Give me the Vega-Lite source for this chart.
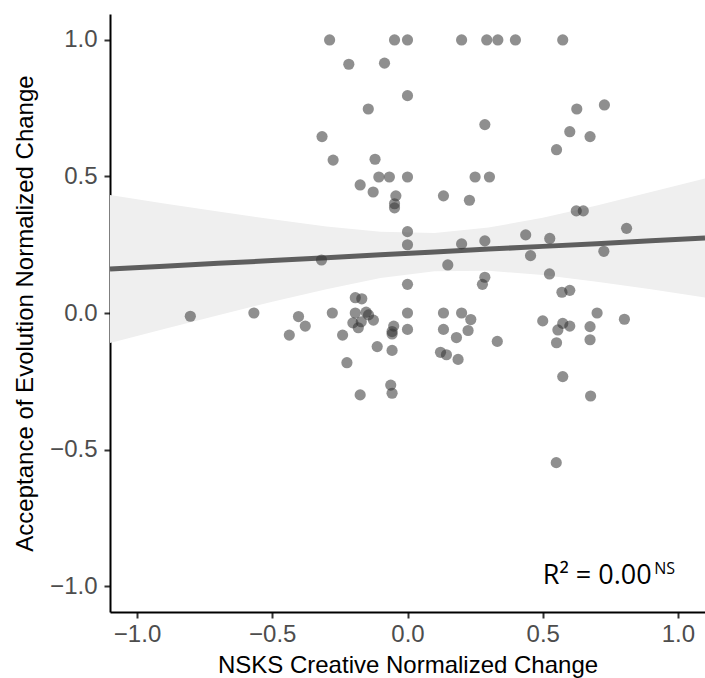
{
  "$schema": "https://vega.github.io/schema/vega-lite/v6.json",
  "width": 595,
  "height": 598,
  "autosize": {"type": "none"},
  "padding": {"left": 110, "top": 14, "right": 0, "bottom": 66},
  "background": "white",
  "config": {
    "view": {"stroke": null},
    "axis": {
      "grid": false,
      "domainColor": "#000000",
      "domainWidth": 2,
      "tickColor": "#333333",
      "tickWidth": 2,
      "tickSize": 6,
      "labelFont": "Liberation Sans",
      "labelFontSize": 24,
      "labelColor": "#4d4d4d",
      "titleFont": "Liberation Sans",
      "titleFontSize": 24,
      "titleFontWeight": "normal",
      "titleColor": "#000000"
    }
  },
  "datasets": {
    "points": [
      {"x": -0.288, "y": 1.0}, {"x": -0.048, "y": 1.0}, {"x": 0.0, "y": 1.0},
      {"x": -0.217, "y": 0.911}, {"x": -0.085, "y": 0.915}, {"x": 0.0, "y": 0.796},
      {"x": -0.145, "y": 0.747}, {"x": -0.316, "y": 0.646}, {"x": -0.275, "y": 0.56},
      {"x": -0.12, "y": 0.563}, {"x": -0.106, "y": 0.498}, {"x": -0.067, "y": 0.498},
      {"x": 0.0, "y": 0.498}, {"x": -0.175, "y": 0.469}, {"x": -0.127, "y": 0.443},
      {"x": -0.043, "y": 0.429}, {"x": -0.048, "y": 0.4}, {"x": -0.048, "y": 0.385},
      {"x": 0.0, "y": 0.298}, {"x": 0.0, "y": 0.25}, {"x": -0.318, "y": 0.194},
      {"x": 0.0, "y": 0.105}, {"x": -0.803, "y": -0.012}, {"x": -0.568, "y": 0.0},
      {"x": -0.403, "y": -0.013}, {"x": -0.378, "y": -0.048}, {"x": -0.437, "y": -0.081},
      {"x": -0.278, "y": 0.0}, {"x": -0.193, "y": 0.056}, {"x": -0.169, "y": 0.052},
      {"x": -0.193, "y": 0.0}, {"x": -0.153, "y": 0.003}, {"x": -0.144, "y": -0.007},
      {"x": -0.126, "y": -0.026}, {"x": -0.202, "y": -0.036}, {"x": -0.171, "y": -0.032},
      {"x": -0.182, "y": -0.054}, {"x": -0.24, "y": -0.081}, {"x": -0.051, "y": -0.048},
      {"x": -0.057, "y": -0.068}, {"x": -0.057, "y": -0.077}, {"x": 0.0, "y": 0.0},
      {"x": 0.0, "y": -0.06}, {"x": -0.112, "y": -0.123}, {"x": -0.057, "y": -0.137},
      {"x": -0.224, "y": -0.182}, {"x": -0.062, "y": -0.264}, {"x": -0.057, "y": -0.294},
      {"x": -0.175, "y": -0.3}, {"x": 0.2, "y": 1.0}, {"x": 0.293, "y": 1.0},
      {"x": 0.334, "y": 1.0}, {"x": 0.399, "y": 1.0}, {"x": 0.574, "y": 1.0},
      {"x": 0.286, "y": 0.69}, {"x": 0.626, "y": 0.747}, {"x": 0.728, "y": 0.762},
      {"x": 0.6, "y": 0.664}, {"x": 0.675, "y": 0.646}, {"x": 0.551, "y": 0.598},
      {"x": 0.25, "y": 0.498}, {"x": 0.303, "y": 0.498}, {"x": 0.133, "y": 0.429},
      {"x": 0.229, "y": 0.413}, {"x": 0.624, "y": 0.374}, {"x": 0.65, "y": 0.374},
      {"x": 0.81, "y": 0.31}, {"x": 0.2, "y": 0.253}, {"x": 0.286, "y": 0.264},
      {"x": 0.437, "y": 0.286}, {"x": 0.526, "y": 0.273}, {"x": 0.455, "y": 0.21},
      {"x": 0.726, "y": 0.226}, {"x": 0.149, "y": 0.176}, {"x": 0.286, "y": 0.131},
      {"x": 0.277, "y": 0.105}, {"x": 0.525, "y": 0.143}, {"x": 0.571, "y": 0.076},
      {"x": 0.6, "y": 0.083}, {"x": 0.133, "y": 0.0}, {"x": 0.2, "y": 0.0},
      {"x": 0.234, "y": -0.024}, {"x": 0.133, "y": -0.06}, {"x": 0.224, "y": -0.064},
      {"x": 0.181, "y": -0.09}, {"x": 0.332, "y": -0.104}, {"x": 0.122, "y": -0.144},
      {"x": 0.144, "y": -0.153}, {"x": 0.187, "y": -0.17}, {"x": 0.5, "y": -0.029},
      {"x": 0.574, "y": -0.038}, {"x": 0.6, "y": -0.048}, {"x": 0.556, "y": -0.062},
      {"x": 0.701, "y": 0.0}, {"x": 0.675, "y": -0.05}, {"x": 0.675, "y": -0.098},
      {"x": 0.802, "y": -0.023}, {"x": 0.551, "y": -0.109}, {"x": 0.574, "y": -0.233},
      {"x": 0.677, "y": -0.304}, {"x": 0.55, "y": -0.548}
    ],
    "fit": [
      {"x": -1.1, "fit": 0.161, "lo": -0.110, "hi": 0.432},
      {"x": -0.9, "fit": 0.171, "lo": -0.059, "hi": 0.401},
      {"x": -0.7, "fit": 0.182, "lo": -0.008, "hi": 0.372},
      {"x": -0.5, "fit": 0.192, "lo": 0.041, "hi": 0.343},
      {"x": -0.3, "fit": 0.202, "lo": 0.087, "hi": 0.317},
      {"x": -0.1, "fit": 0.213, "lo": 0.128, "hi": 0.298},
      {"x": 0.1, "fit": 0.223, "lo": 0.153, "hi": 0.293},
      {"x": 0.3, "fit": 0.234, "lo": 0.155, "hi": 0.313},
      {"x": 0.5, "fit": 0.244, "lo": 0.139, "hi": 0.349},
      {"x": 0.7, "fit": 0.254, "lo": 0.114, "hi": 0.394},
      {"x": 0.9, "fit": 0.265, "lo": 0.087, "hi": 0.443},
      {"x": 1.1, "fit": 0.275, "lo": 0.057, "hi": 0.493}
    ],
    "label": [
      {"x": 0.5, "y": -0.993, "t": "R² = 0.00"}
    ],
    "sup": [
      {"x": 0.912, "y": -0.955, "t": "NS"}
    ]
  },
  "layer": [
    {
      "data": {"name": "fit"},
      "mark": {"type": "area", "color": "#efefef", "opacity": 1},
      "encoding": {
        "x": {"field": "x", "type": "quantitative",
              "scale": {"domain": [-1.1, 1.1], "nice": false, "zero": false},
              "axis": {"title": "NSKS Creative Normalized Change", "values": [-1, -0.5, 0, 0.5, 1], "format": ".1f", "labelPadding": 4, "titlePadding": 7}},
        "y": {"field": "lo", "type": "quantitative",
              "scale": {"domain": [-1.095, 1.095], "nice": false, "zero": false},
              "axis": {"title": "Acceptance of Evolution Normalized Change", "values": [-1, -0.5, 0, 0.5, 1], "format": ".1f", "labelPadding": 7, "titlePadding": 12}},
        "y2": {"field": "hi"}
      }
    },
    {
      "data": {"name": "fit"},
      "mark": {"type": "line", "color": "#5e5e5e", "strokeWidth": 5},
      "encoding": {
        "x": {"field": "x", "type": "quantitative"},
        "y": {"field": "fit", "type": "quantitative"}
      }
    },
    {
      "data": {"name": "points"},
      "mark": {"type": "circle", "size": 125, "color": "#333333", "opacity": 0.55, "strokeWidth": 0},
      "encoding": {
        "x": {"field": "x", "type": "quantitative"},
        "y": {"field": "y", "type": "quantitative"}
      }
    },
    {
      "data": {"name": "label"},
      "mark": {"type": "text", "font": "Open Sans", "fontSize": 27, "align": "left", "baseline": "alphabetic", "color": "#000000"},
      "encoding": {
        "x": {"field": "x", "type": "quantitative"},
        "y": {"field": "y", "type": "quantitative"},
        "text": {"field": "t"}
      }
    },
    {
      "data": {"name": "sup"},
      "mark": {"type": "text", "font": "Open Sans", "fontSize": 16, "align": "left", "baseline": "alphabetic", "color": "#000000"},
      "encoding": {
        "x": {"field": "x", "type": "quantitative"},
        "y": {"field": "y", "type": "quantitative"},
        "text": {"field": "t"}
      }
    }
  ]
}
